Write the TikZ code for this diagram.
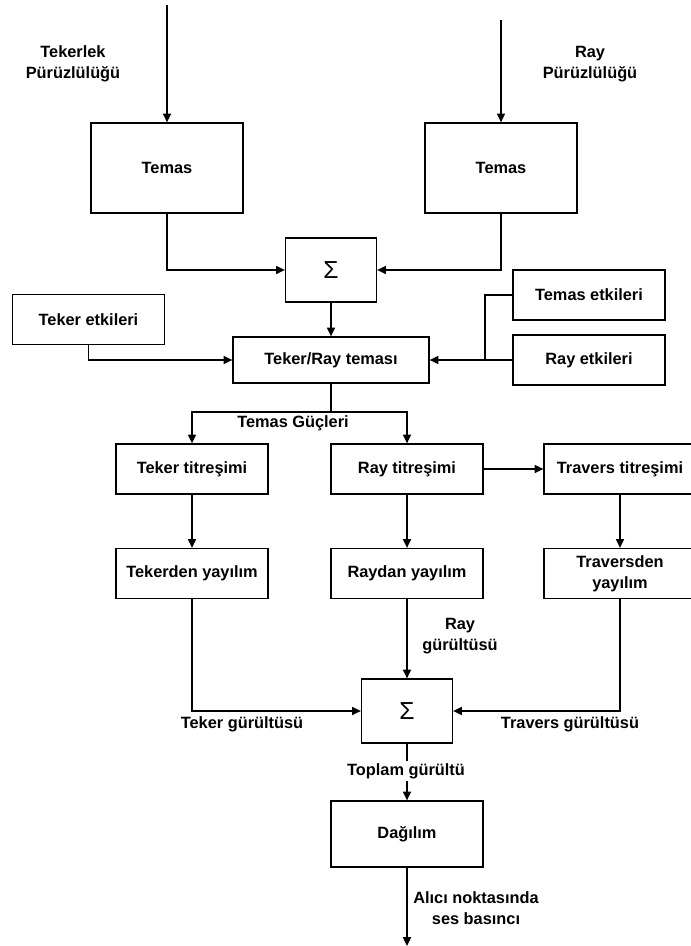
\documentclass[tikz,border=0pt]{standalone}
\usepackage{fontspec}
\setmainfont{Liberation Sans}
\usetikzlibrary{arrows.meta}

\begin{document}
\begin{tikzpicture}[
    x=0.02cm, y=-0.02cm,
    line width=0.75pt,
    >={Triangle[length=5pt,width=4.6pt]},
    blk/.style={rectangle, draw, minimum width=3.04cm, minimum height=1cm,
                align=center, inner sep=1pt, font=\fontsize{9.3}{12}\selectfont\bfseries},
    sumb/.style={rectangle, draw, minimum width=1.82cm, minimum height=1.28cm,
                 font=\fontsize{14}{14}\selectfont},
    lbl/.style={align=center, inner sep=0pt, font=\fontsize{9.3}{12}\selectfont\bfseries}
]
    \useasboundingbox (0,0) rectangle (690,946);

    \coordinate (inL) at (167,5);
    \coordinate (inR) at (501,20);
    \node[lbl] (rghL) at (73,64) {Tekerlek\\Pürüzlülüğü};
    \node[lbl] (rghR) at (590,64) {Ray\\Pürüzlülüğü};

    \node[blk, minimum height=1.8cm] (temL) at (167,168) {Temas};
    \node[blk, minimum height=1.8cm] (temR) at (501,168) {Temas};
    \node[sumb] (sum1) at (331,270) {Σ};

    \draw[->] (inL) -- (temL);
    \draw[->] (inR) -- (temR);
    \draw[->] (temL) |- (sum1);
    \draw[->] (temR) |- (sum1);

    \node[blk] (tetk) at (88.5,319.5) {Teker etkileri};
    \node[blk] (temetk) at (589,295) {Temas etkileri};
    \node[blk] (rayetk) at (589,360) {Ray etkileri};
    \node[blk, minimum width=3.92cm, minimum height=0.92cm] (trc) at (331,360) {Teker/Ray teması};
    \coordinate (jn) at (485,360);

    \draw[->] (sum1) -- (trc);
    \draw[->] (tetk) |- (trc);
    \draw (temetk) -| (jn);
    \draw[->] (rayetk) -- (trc);

    \node[blk] (tkt) at (192,469) {Teker titreşimi};
    \node[blk] (rat) at (407,469) {Ray titreşimi};
    \node[blk] (trt) at (620,469) {Travers titreşimi};
    \coordinate (sp) at (331,412);
    \node[lbl] (gc) at (293,423) {Temas Güçleri};

    \draw (trc) -- (sp);
    \draw[->] (sp) -| (tkt);
    \draw[->] (sp) -| (rat);
    \draw[->] (rat) -- (trt);

    \node[blk] (tky) at (192,573.5) {Tekerden yayılım};
    \node[blk] (ray) at (407,573.5) {Raydan yayılım};
    \node[blk] (try) at (620,573.5) {Traversden\\yayılım};

    \draw[->] (tkt) -- (tky);
    \draw[->] (rat) -- (ray);
    \draw[->] (trt) -- (try);

    \node[sumb] (sum2) at (407,711) {Σ};
    \node[lbl] (nTk) at (242,724) {Teker gürültüsü};
    \node[lbl] (nTr) at (570,724) {Travers gürültüsü};
    \node[lbl] (nRy) at (460,636) {Ray\\gürültüsü};

    \draw[->] (tky) |- (sum2);
    \draw[->] (try) |- (sum2);
    \draw[->] (ray) -- (sum2);

    \node[blk, minimum height=1.32cm] (dag) at (407,834) {Dağılım};
    \coordinate (out) at (407,946);
    \draw[->] (sum2) -- (dag);
    \node[lbl, fill=white, inner sep=1.5pt] (tpl) at (406,771) {Toplam gürültü};

    \node[lbl] (snd) at (476,908) {Alıcı noktasında\\ses basıncı};
    \draw[->] (dag) -- (out);
\end{tikzpicture}
\end{document}
